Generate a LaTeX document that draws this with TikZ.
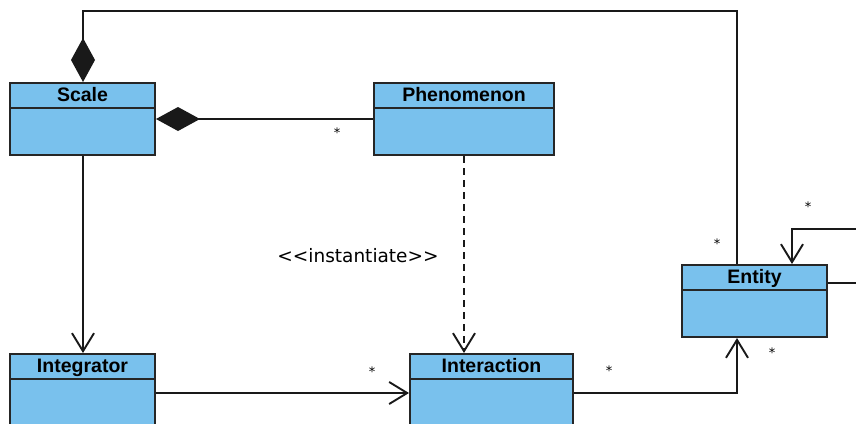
\documentclass[tikz,border=0pt]{standalone}
\usepackage{fontspec}
\setmainfont{DejaVu Sans}
\newfontfamily\titlefont{Liberation Sans}
\usepackage{xcolor}
\usepackage{tikz}
\usetikzlibrary{arrows.meta}

\definecolor{umlblue}{RGB}{121,193,237}

\tikzset{
  classbox/.style={draw=black!85, line width=2pt, fill=umlblue, anchor=north west,
    inner sep=0pt, minimum height=72pt},
  classname/.style={font=\titlefont\bfseries\fontsize{19.5}{22}\selectfont, inner sep=0pt, anchor=base},
  link/.style={line width=1.9pt, black!90},
  open/.style={-{Straight Barb[length=18pt,width=22pt]}},
  comp/.style={{Diamond[length=44pt,width=24pt]}-},
  mult/.style={font=\fontsize{13}{13}\selectfont, inner sep=0pt},
}

\newcommand{\umlclass}[5]{%
  \node[classbox, minimum width=#4pt] (#1) at (#2,#3) {};
  \draw[line width=2pt, black!85] ([yshift=-26pt]#1.north west) -- ([yshift=-26pt]#1.north east);
  \node[classname] (#1-name) at ([yshift=-19.5pt]#1.north) {#5};
}

\begin{document}
\begin{tikzpicture}[x=1pt,y=-1pt]
\useasboundingbox (0,0) rectangle (856,423);

\umlclass{scale}{9}{82}{145}{Scale}
\umlclass{phen}{373}{82}{180}{Phenomenon}
\umlclass{entity}{681}{264}{145}{Entity}
\umlclass{integ}{9}{353}{145}{Integrator}
\umlclass{inter}{409}{353}{163}{Interaction}

\coordinate (scale-top) at ([xshift=74pt]scale.north west);
\coordinate (scale-bot) at ([xshift=74pt]scale.south west);
\coordinate (integ-in) at ([xshift=74pt]integ.north west);
\coordinate (entity-in) at ([xshift=56pt]entity.north west);
\coordinate (entity-out) at ([xshift=56pt]entity.south west);
\coordinate (loop-in) at ([xshift=111pt]entity.north west);
\coordinate (loop-out) at ([yshift=-19pt]entity.north east);

% compositions
\draw[link, comp] (scale-top) -- ++(0,-71) -| (entity-in);
\draw[link, comp] (scale.east) -- (phen.west);

% associations
\draw[link, open] (scale-bot) -- (integ-in);
\draw[link, open] ([yshift=-3pt]integ.east) -- ([yshift=-3pt]inter.west);
\draw[link, open] ([yshift=-3pt]inter.east) -| (entity-out);
\draw[link, open] (loop-out) -- (880,283) -- (880,229) -| (loop-in);

% dependency
\draw[link, open, dash pattern=on 7pt off 5pt] (phen.south) -- (phen.south |- inter.north);
\node[font=\fontsize{18.5}{21}\selectfont] (inst) at (358,256) {<\kern0pt<instantiate>\kern0pt>};

\node[mult] (m1) at (337,133) {*};
\node[mult] (m2) at (717,244) {*};
\node[mult] (m3) at (372,372) {*};
\node[mult] (m4) at (609,371) {*};
\node[mult] (m5) at (772,353) {*};
\node[mult] (m6) at (808,207) {*};

\end{tikzpicture}
\end{document}
